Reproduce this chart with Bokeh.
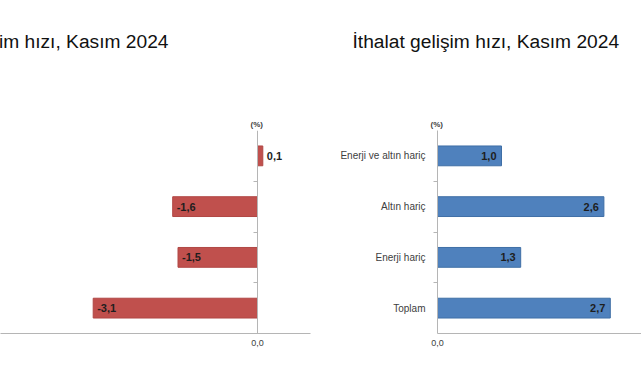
from bokeh.plotting import figure
from bokeh.models import LinearAxis, FixedTicker, Range1d, Title, ColumnDataSource
from bokeh.layouts import row
from bokeh.embed import file_html
from bokeh.resources import INLINE
from bokeh.core.properties import value

# ---- data (categories listed top to bottom) ----
categories = ["Enerji ve altın hariç", "Altın hariç", "Enerji hariç", "Toplam"]
export_values = [0.1, -1.6, -1.5, -3.1]
import_values = [1.0, 2.6, 1.3, 2.7]
export_title = "İhracat gelişim hızı, Kasım 2024"
import_title = "İthalat gelişim hızı, Kasım 2024"
export_x_ticks = [-5.0, 0.0]
import_x_ticks = [0.0, 5.0]
unit_label = "(%)"

FONT = "Liberation Sans"
AXIS_COLOR = "#B5B5B5"
TEXT_COLOR = "#404040"


def fmt(v):
    return f"{v:.1f}".replace(".", ",")


n = len(categories)
ypos = [n - i - 0.5 for i in range(n)]
boundaries = [float(k) for k in range(1, n)]


def make_panel(values, title, xticks, x_range, width, mb_left, mb_right,
               fill, edge, label_align, label_offset, show_cats,
               title_offset, unit_offset):
    p = figure(width=width, height=380, x_range=x_range, y_range=Range1d(0, n),
               output_backend="svg", toolbar_location=None,
               x_axis_location=None, y_axis_location=None,
               min_border_left=mb_left, min_border_right=mb_right,
               min_border_top=130, min_border_bottom=47)
    p.outline_line_color = None
    p.background_fill_color = "white"
    p.border_fill_color = "white"
    for g in p.grid:
        g.visible = False

    src = ColumnDataSource(dict(y=ypos, v=values, lab=[fmt(v) for v in values]))
    p.hbar(y="y", left=0, right="v", height=0.39, source=src,
           fill_color=fill, line_color=edge, line_width=1)
    p.text(x="v", y="y", text="lab", source=src, text_align=label_align,
           text_baseline="middle", x_offset=label_offset,
           text_font=value(FONT), text_font_size="11px", text_font_style="bold",
           text_color="#1E1E1E")

    # bottom value axis
    xa = LinearAxis(ticker=FixedTicker(ticks=xticks, minor_ticks=[]),
                    major_label_overrides={t: fmt(t) for t in xticks})
    xa.axis_line_color = AXIS_COLOR
    xa.major_tick_line_color = None
    xa.minor_tick_line_color = None
    xa.major_tick_out = 0
    xa.major_tick_in = 0
    xa.minor_tick_out = 0
    xa.minor_tick_in = 0
    xa.major_label_standoff = 6
    xa.major_label_text_font = FONT
    xa.major_label_text_font_size = "9px"
    xa.major_label_text_color = TEXT_COLOR
    p.add_layout(xa, "below")

    # category axis at zero
    ya = LinearAxis(ticker=FixedTicker(ticks=ypos, minor_ticks=boundaries),
                    major_label_overrides={y: c for y, c in zip(ypos, categories)})
    if not show_cats:
        ya.fixed_location = 0
        ya.major_label_text_color = None
    else:
        ya.major_label_text_color = TEXT_COLOR
    ya.axis_line_color = AXIS_COLOR
    ya.major_tick_line_color = None
    ya.major_tick_out = 0
    ya.major_tick_in = 0
    ya.minor_tick_line_color = AXIS_COLOR
    ya.minor_tick_out = 4
    ya.minor_tick_in = 0
    ya.major_label_standoff = 8
    ya.major_label_text_font = FONT
    ya.major_label_text_font_size = "10px"
    p.add_layout(ya, "left")

    # above the frame, from the frame outward: "(%)", an empty spacer, the title
    p.add_layout(Title(text=unit_label, align="left", offset=unit_offset, standoff=4,
                       text_font=FONT, text_font_size="8px", text_font_style="bold",
                       text_color=TEXT_COLOR), "above")
    p.add_layout(Title(text=" ", align="left", standoff=36,
                       text_font=FONT, text_font_size="1px"), "above")
    p.add_layout(Title(text=title, align="left", offset=title_offset, standoff=50,
                       text_font=FONT, text_font_size="19.2px", text_font_style="normal",
                       text_color="#111111"), "above")
    return p


p_exp = make_panel(export_values, export_title, export_x_ticks,
                   Range1d(-257 / 53, 1.0), 320, 0, 10,
                   "#C0504D", "#B04744", "left", 4, False, -105, 250)
p_imp = make_panel(import_values, import_title, import_x_ticks,
                   Range1d(0, 204 / 64), 321, 117, 0,
                   "#4F81BD", "#3F6FA6", "right", -5, True, -85, -7)

layout = row(p_exp, p_imp)
open("out.html", "w").write(file_html(layout, INLINE))
